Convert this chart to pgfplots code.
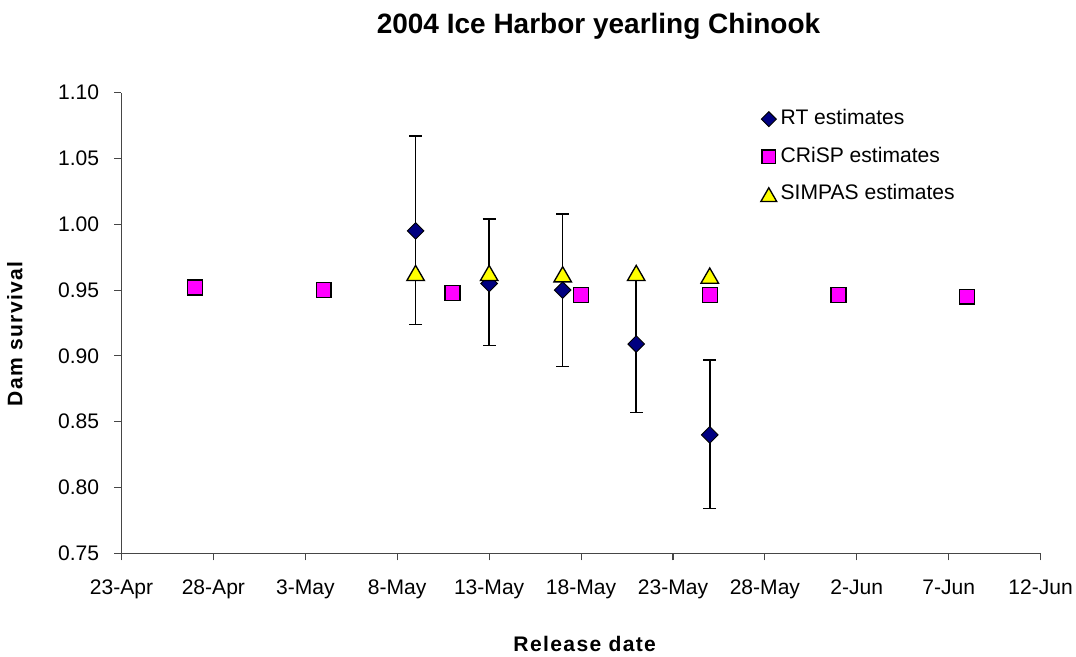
\documentclass[border=0pt]{standalone}
\usepackage{pgfplots}
\pgfplotsset{compat=1.18}
\usepackage{fontspec}
\setmainfont{Liberation Sans}
\definecolor{rtnavy}{RGB}{0,0,128}
\definecolor{crispmag}{RGB}{255,0,255}
\definecolor{simpyel}{RGB}{255,255,0}
\definecolor{axgray}{RGB}{70,70,70}
\begin{document}
\begin{tikzpicture}
\begin{axis}[
  at={(0pt,0pt)}, anchor=south west,
  scale only axis, width=689.4pt, height=345.5pt,
  xmin=0, xmax=50, ymin=0.75, ymax=1.10,
  axis lines*=left,
  axis line style={axgray, line width=0.8pt},
  tick style={axgray, line width=0.8pt},
  major tick length=5.25pt, tick align=outside,
  xtick={0,5,10,15,20,25,30,35,40,45,50},
  xticklabels={23-Apr,28-Apr,3-May,8-May,13-May,18-May,23-May,28-May,2-Jun,7-Jun,12-Jun},
  ytick={0.75,0.80,0.85,0.90,0.95,1.00,1.05,1.10},
  yticklabels={0.75,0.80,0.85,0.90,0.95,1.00,1.05,1.10},
  ticklabel style={font=\fontsize{15.8pt}{18pt}\selectfont},
  yticklabel style={xshift=-8pt},
  xticklabel style={yshift=-11pt, text height=11.3pt, text depth=3.3pt},
  clip=false,
  legend style={at={(0.691,0.97)}, anchor=north west, draw=none, fill=none,
    font=\fontsize{15.8pt}{18pt}\selectfont, row sep=13.6pt, column sep=3pt,
    nodes={inner sep=0pt, text height=11.3pt, text depth=3.3pt}},
  legend cell align=left,
  legend image code/.code={\draw[#1, every mark/.append style={scale=0.9}] plot coordinates {(0pt,0pt)};},
]
\addplot[forget plot, only marks, mark=none,
  error bars/.cd, y dir=both, y explicit,
  error mark=-, error mark options={rotate=90, black, line width=1.2pt, mark size=4.8pt},
  error bar style={black, line width=1.2pt}]
  table[x=x, y=y, y error plus=ep, y error minus=em] {
x y ep em
16 0.995 0.072 0.071
20 0.955 0.049 0.047
24 0.950 0.058 0.058
28 0.909 0.052 0.052
32 0.840 0.057 0.056
};
\addplot[only marks, mark=square*, mark size=4.4pt,
  mark options={rotate=45, fill=rtnavy, draw=black, line width=0.7pt}]
  table[x=x, y=y] {
x y
16 0.995
20 0.955
24 0.950
28 0.909
32 0.840
};
\addlegendentry{RT estimates}
\addplot[only marks, mark=square*, mark size=5.6pt,
  mark options={fill=crispmag, draw=black, line width=1pt}]
  table[x=x, y=y] {
x y
4 0.952
11 0.950
18 0.948
25 0.9465
32 0.9465
39 0.9465
46 0.945
};
\addlegendentry{CRiSP estimates}
\addplot[only marks, mark=triangle*, mark size=7.6pt,
  mark options={fill=simpyel, draw=black, line width=1pt, yshift=-1.9pt}]
  table[x=x, y=y] {
x y
16 0.963
20 0.963
24 0.962
28 0.963
32 0.961
};
\addlegendentry{SIMPAS estimates}
\node[anchor=base, font=\fontsize{21pt}{25pt}\selectfont\bfseries, yshift=44.5pt] at (rel axis cs:0.519,1) {2004 Ice Harbor yearling Chinook};
\node[anchor=base, font=\fontsize{15.8pt}{18pt}\selectfont\bfseries\addfontfeature{LetterSpace=6.5}] at ([yshift=-73.8pt]rel axis cs:0.504,0) {Release date};
\node[anchor=center, rotate=90, font=\fontsize{15.8pt}{18pt}\selectfont\bfseries\addfontfeature{LetterSpace=6.5}] at ([xshift=-79.9pt]rel axis cs:0,0.476) {Dam survival};
\end{axis}
\pgfresetboundingbox
\path[use as bounding box] (-91.1pt,-77.75pt) rectangle (715.9pt,415pt);
\end{tikzpicture}
\end{document}
